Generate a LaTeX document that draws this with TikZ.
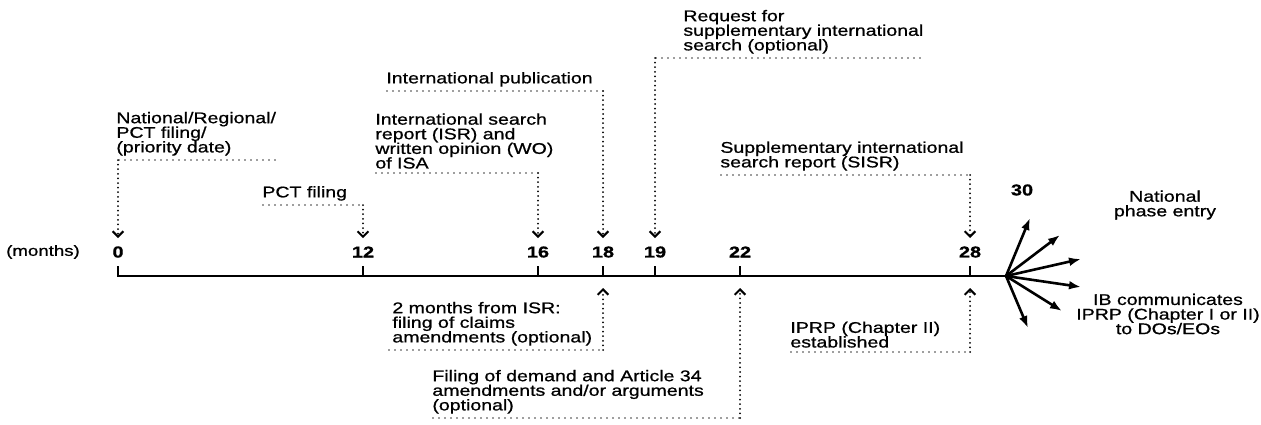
\documentclass[tikz,border=0pt]{standalone}
\usepackage{fontspec}
\setmainfont{Liberation Sans}[FakeStretch=1.26, FakeBold=0.8]
\usetikzlibrary{arrows.meta}

\tikzset{
  lbl/.style={inner sep=0pt, align=left, font=\fontsize{7.75}{7.3}\selectfont},
  num/.style={inner sep=0pt, font=\fontsize{7.9}{7.3}\selectfont\bfseries},
  axis/.style={line width=1.3pt, line join=miter},
  tick/.style={line width=1.3pt},
  guide/.style={gray!75, line width=0.7pt, dash pattern=on 1.2pt off 1.8pt},
  pointer/.style={line width=1pt, line cap=round, dash pattern=on 0pt off 2.3pt,
    -{Straight Barb[length=2.7pt, width=5.4pt, line cap=butt]}},
  fan/.style={line width=1.3pt, -{Latex[length=6pt, width=4.4pt]}},
}

\begin{document}
\begin{tikzpicture}[x=0.5pt, y=-0.5pt]
    \useasboundingbox (0,0) rectangle (1261,424);

    \coordinate (fan) at (1006,276);
    \foreach \m/\x in {0/118,12/363,16/538,18/603,19/655,22/740,28/970}{
        \coordinate (t\m) at (\x,276);
        \node[num] (m\m) at (\x,252) {\m};
    }
    \foreach \m in {12,16,18,19,22,28}
        \draw[tick] (t\m) -- ++(0,-10);
    \draw[axis] (t0) ++(0,-10) -- (t0) -- (fan);
    \node[lbl, font=\fontsize{7.4}{7.3}\selectfont] (months) at (43,252) {(months)};

    % labels above the line
    \node[lbl, anchor=south west] (prio) at (116,156) {National/Regional/\\PCT filing/\\(priority date)};
    \node[lbl, anchor=south west] (pct) at (262,201) {PCT filing};
    \node[lbl, anchor=south west] (isr) at (375,169) {International search\\report (ISR) and\\written opinion (WO)\\of ISA};
    \node[lbl, anchor=south west] (pub) at (386,87) {International publication};
    \node[lbl, anchor=south west] (req) at (683,54) {Request for\\supplementary international\\search (optional)};
    \node[lbl, anchor=south west] (sisr) at (720,171) {Supplementary international\\search report (SISR)};

    \coordinate (c0) at (118,160);
    \coordinate (c12) at (363,205);
    \coordinate (c16) at (538,173);
    \coordinate (c18) at (603,91);
    \coordinate (c19) at (655,58);
    \coordinate (c28) at (970,175);

    \draw[guide] (c0) -- (c0 -| prio.east);
    \draw[guide] (c12 -| pct.west) -- (c12);
    \draw[guide] (c16 -| isr.west) -- (c16);
    \draw[guide] (c18 -| pub.west) -- (c18);
    \draw[guide] (c19) -- (c19 -| req.east);
    \draw[guide] (c28 -| sisr.west) -- (c28);

    \foreach \m in {0,12,16,18,19,28}
        \draw[pointer] (c\m) -- ([yshift=4pt]m\m.north);

    % labels below the line
    \node[lbl, anchor=south west] (amend) at (392,346) {2 months from ISR:\\filing of claims\\amendments (optional)};
    \node[lbl, anchor=south west] (iprp) at (790,348) {IPRP (Chapter II)\\established};
    \node[lbl, anchor=south west] (demand) at (432,414) {Filing of demand and Article 34\\amendments and/or arguments\\(optional)};

    \coordinate (d18) at (603,350);
    \coordinate (d22) at (740,418);
    \coordinate (d28) at (970,352);

    \draw[guide] ([xshift=-2pt]d18 -| amend.west) -- (d18);
    \draw[guide] (d22 -| demand.west) -- (d22);
    \draw[guide] (d28 -| iprp.west) -- (d28);

    \foreach \m in {18,22,28}
        \draw[pointer] (d\m) -- ([yshift=-6pt]t\m);

    % national phase
    \node[num] (m30) at (1022,190) {30};
    \foreach \i/\tx/\ty in {1/1030/218,2/1060/235,3/1081/259,4/1081/287,5/1062/311,6/1028/328}{
        \coordinate (e\i) at (\tx,\ty);
        \draw[fan] (fan) -- (e\i);
    }
    \node[lbl, align=center] (npe) at (1165,205) {National\\phase entry};
    \node[lbl, align=center] (ib) at (1168,314) {IB communicates\\IPRP (Chapter I or II)\\to DOs/EOs};
\end{tikzpicture}
\end{document}
